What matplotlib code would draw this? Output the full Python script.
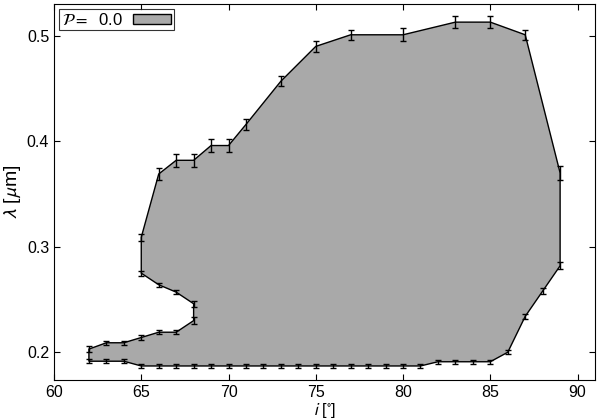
import numpy as np
import matplotlib
matplotlib.use("Agg")
from matplotlib import pyplot as plt

plt.rcParams['font.family'] = ['Liberation Sans', 'DejaVu Sans']
plt.rcParams['mathtext.fontset'] = 'stixsans'

# lower edge of the region, left to right
low_i = [62, 63, 64, 65, 66, 67, 68, 69, 70, 71, 72, 73, 74, 75, 76, 77, 78, 79, 80, 81,
         82, 83, 84, 85, 86, 87, 88, 89]
low_lam = [0.1915, 0.1915, 0.1915, 0.187, 0.187, 0.187, 0.187, 0.187, 0.187, 0.187, 0.187,
           0.187, 0.187, 0.187, 0.187, 0.187, 0.187, 0.187, 0.187, 0.187,
           0.191, 0.191, 0.191, 0.191, 0.200, 0.234, 0.258, 0.282]
low_err = [0.002] * 25 + [0.0025, 0.003, 0.0035]

# upper edge, right to left
up_i = [89, 87, 85, 83, 80, 77, 75, 73, 71, 70, 69, 68, 67, 66, 65]
up_lam = [0.370, 0.501, 0.513, 0.513, 0.501, 0.501, 0.490, 0.457, 0.416, 0.396, 0.396,
          0.382, 0.382, 0.369, 0.309]
up_err = [0.0065, 0.005, 0.006, 0.006, 0.006, 0.005, 0.005, 0.005, 0.005, 0.006, 0.006,
          0.006, 0.006, 0.0055, 0.0035]

# inner notch on the left side, top to bottom
notch_i = [65, 66, 67, 68, 68, 67, 66, 65, 64, 63, 62]
notch_lam = [0.275, 0.264, 0.257, 0.246, 0.230, 0.219, 0.219, 0.214, 0.209, 0.209, 0.203]
notch_err = [0.0025, 0.002, 0.002, 0.003, 0.003, 0.002, 0.002, 0.002, 0.002, 0.002, 0.003]

P_value = "0.0"

xs = low_i + up_i + notch_i
ys = low_lam + up_lam + notch_lam
es = low_err + up_err + notch_err

fig = plt.figure(figsize=(6, 4.2), dpi=100)
ax = fig.add_axes([0.09, 0.096, 0.9017, 0.894])

ax.fill(xs, ys, facecolor='#a9a9a9', edgecolor='k', lw=1.0,
        label=r'$\mathcal{P} =$  ' + P_value)
ax.errorbar(xs, ys, yerr=es, fmt='none', ecolor='k', elinewidth=1.0,
            capsize=2.2, capthick=1.0)

ax.set_xlim(60, 91)
ax.set_ylim(0.174, 0.53)
ax.set_xticks([60, 65, 70, 75, 80, 85, 90])
ax.set_yticks([0.2, 0.3, 0.4, 0.5])
ax.tick_params(direction='in', top=True, right=True, length=4.5, labelsize=11.5)
ax.tick_params(axis='x', pad=4)
ax.set_xlabel(r'$i$ [$^{\circ}$]', fontsize=12, labelpad=0.5)
ax.set_ylabel(r'$\lambda$ [$\mu$m]', fontsize=14, labelpad=3)

leg = ax.legend(loc='upper left', markerfirst=False, fancybox=False, fontsize=12,
                borderaxespad=0.3, handlelength=2.3, handleheight=0.6,
                borderpad=0.15, handletextpad=0.6)
leg.get_frame().set_edgecolor('k')
leg.get_frame().set_linewidth(0.8)

fig.savefig('out.png', dpi=100)
